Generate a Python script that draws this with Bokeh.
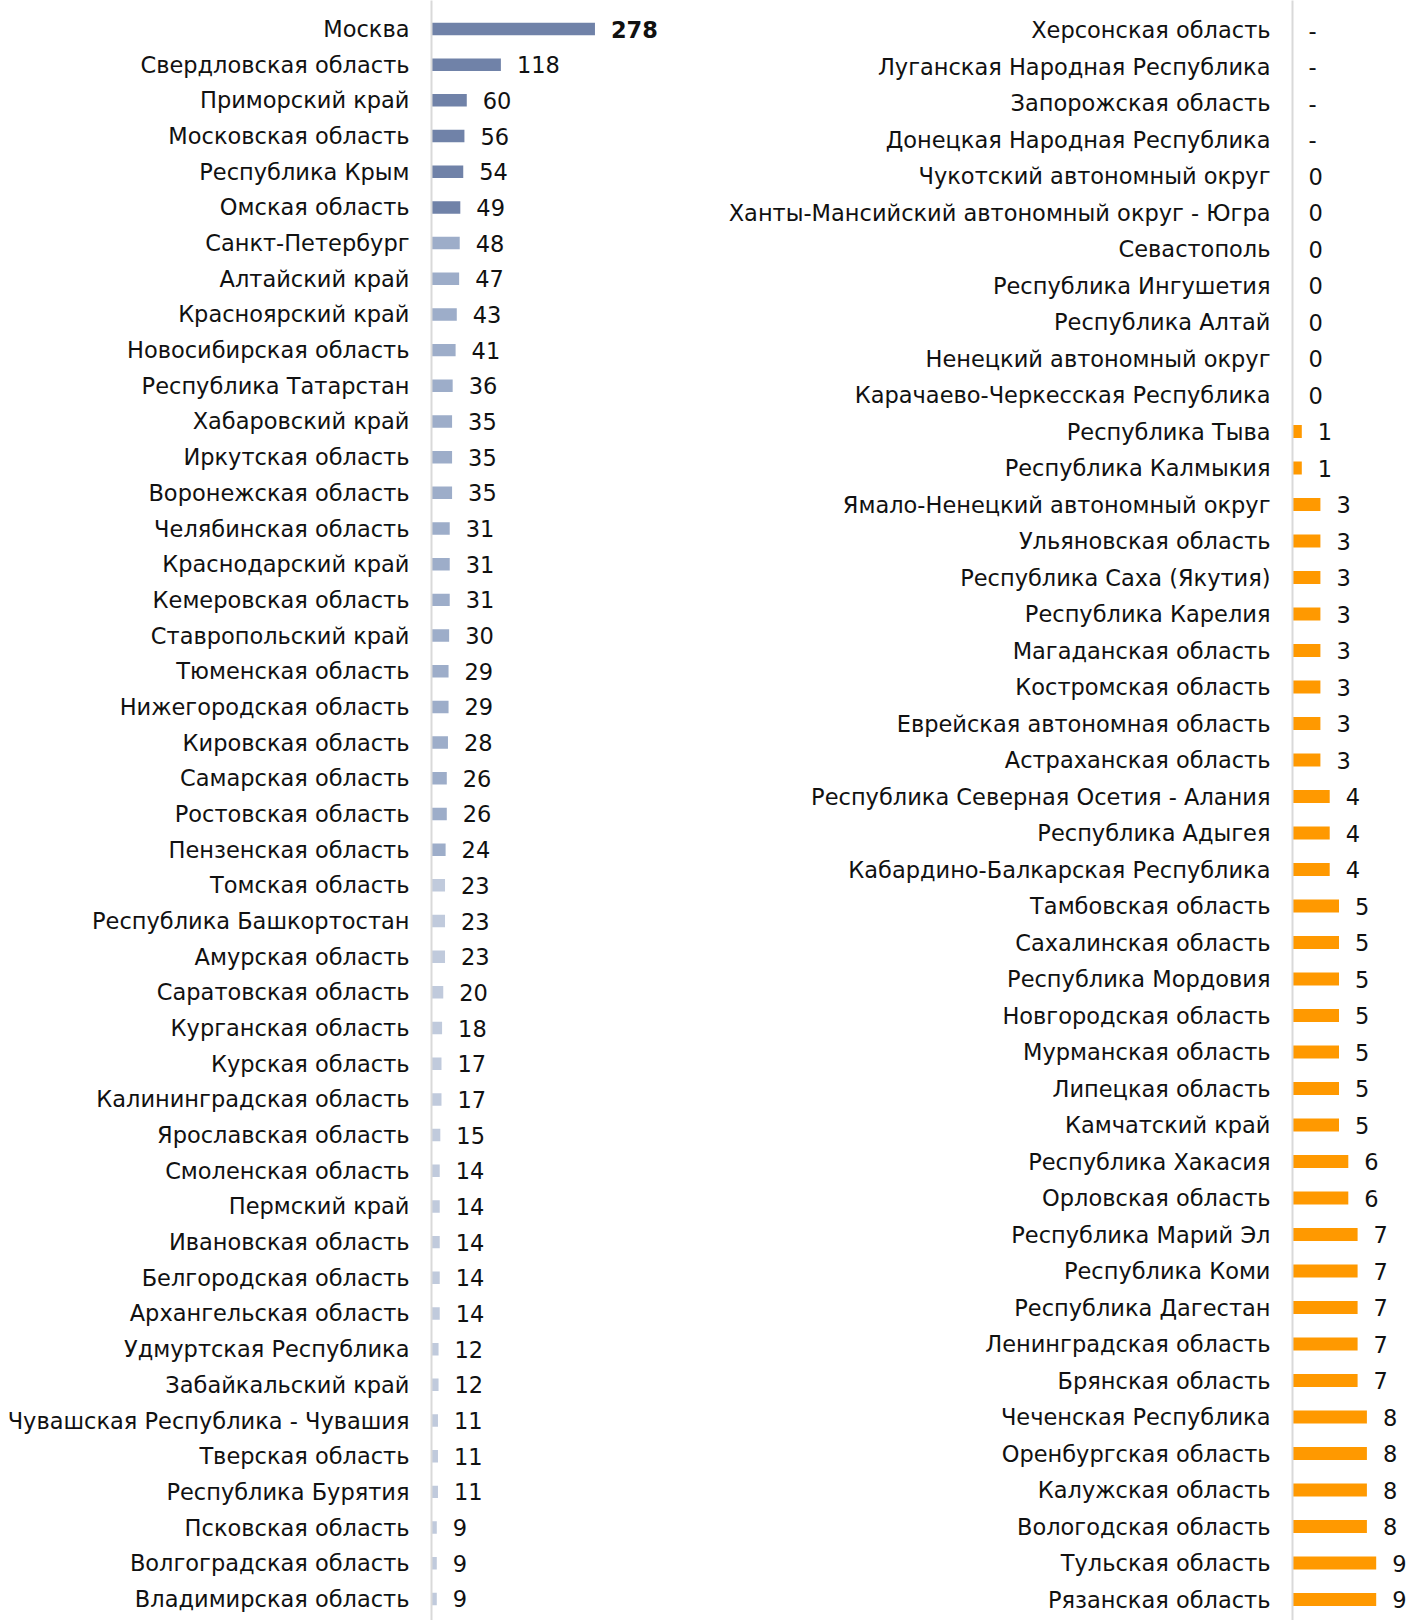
from bokeh.plotting import figure
from bokeh.models import Range1d, FixedTicker, ColumnDataSource
from bokeh.layouts import row
from bokeh.embed import file_html
from bokeh.resources import INLINE
from bokeh.core.properties import value

left_regions = ["Москва", "Свердловская область", "Приморский край", "Московская область",
    "Республика Крым", "Омская область", "Санкт-Петербург", "Алтайский край",
    "Красноярский край", "Новосибирская область", "Республика Татарстан", "Хабаровский край",
    "Иркутская область", "Воронежская область", "Челябинская область", "Краснодарский край",
    "Кемеровская область", "Ставропольский край", "Тюменская область", "Нижегородская область",
    "Кировская область", "Самарская область", "Ростовская область", "Пензенская область",
    "Томская область", "Республика Башкортостан", "Амурская область", "Саратовская область",
    "Курганская область", "Курская область", "Калининградская область", "Ярославская область",
    "Смоленская область", "Пермский край", "Ивановская область", "Белгородская область",
    "Архангельская область", "Удмуртская Республика", "Забайкальский край",
    "Чувашская Республика - Чувашия", "Тверская область", "Республика Бурятия",
    "Псковская область", "Волгоградская область", "Владимирская область"]
left_values = [278, 118, 60, 56, 54, 49, 48, 47, 43, 41, 36, 35, 35, 35, 31, 31, 31, 30, 29, 29,
    28, 26, 26, 24, 23, 23, 23, 20, 18, 17, 17, 15, 14, 14, 14, 14, 14, 12, 12, 11, 11, 11, 9, 9, 9]

right_regions = ["Херсонская область", "Луганская Народная Республика", "Запорожская область",
    "Донецкая Народная Республика", "Чукотский автономный округ",
    "Ханты-Мансийский автономный округ - Югра", "Севастополь", "Республика Ингушетия",
    "Республика Алтай", "Ненецкий автономный округ", "Карачаево-Черкесская Республика",
    "Республика Тыва", "Республика Калмыкия", "Ямало-Ненецкий автономный округ",
    "Ульяновская область", "Республика Саха (Якутия)", "Республика Карелия",
    "Магаданская область", "Костромская область", "Еврейская автономная область",
    "Астраханская область", "Республика Северная Осетия - Алания", "Республика Адыгея",
    "Кабардино-Балкарская Республика", "Тамбовская область", "Сахалинская область",
    "Республика Мордовия", "Новгородская область", "Мурманская область", "Липецкая область",
    "Камчатский край", "Республика Хакасия", "Орловская область", "Республика Марий Эл",
    "Республика Коми", "Республика Дагестан", "Ленинградская область", "Брянская область",
    "Чеченская Республика", "Оренбургская область", "Калужская область", "Вологодская область",
    "Тульская область", "Рязанская область"]
right_values = [None, None, None, None, 0, 0, 0, 0, 0, 0, 0, 1, 1, 3, 3, 3, 3, 3, 3, 3, 3,
    4, 4, 4, 5, 5, 5, 5, 5, 5, 5, 6, 6, 7, 7, 7, 7, 7, 8, 8, 8, 8, 9, 9]

FONT = "DejaVu Sans"
FSIZE = "22.5px"
DARK, MID, LIGHT, ORANGE = "#7082a8", "#9dadc9", "#c0cadc", "#ff9900"
H = 1620


def left_color(v):
    if v >= 49:
        return DARK
    if v >= 24:
        return MID
    return LIGHT


def make_fig(regions, vals, colors, width, frame_left, xmax, ytop, ybot, bold_first):
    n = len(regions)
    ys = list(range(n))
    bar_vals = [0 if v is None else v for v in vals]
    labels = ["-" if v is None else str(v) for v in vals]
    p = figure(width=width, height=H, output_backend="svg", toolbar_location=None,
               x_range=Range1d(0, xmax), y_range=Range1d(ybot, ytop),
               min_border_left=frame_left, min_border_right=0, min_border_top=0,
               min_border_bottom=0, x_axis_location=None)
    p.outline_line_color = None
    p.grid.visible = False
    p.background_fill_color = "white"
    src = ColumnDataSource(dict(y=ys, v=bar_vals, c=colors, t=labels,
                                w=["bold" if (bold_first and i == 0) else "normal" for i in ys]))
    p.hbar(y="y", left=0, right="v", height=0.35, fill_color="c", line_color=None, source=src)
    p.text(x="v", y="y", text="t", source=src, x_offset=16, text_align="left",
           text_baseline="middle", text_font=value(FONT), text_font_size=FSIZE,
           text_font_style="w", text_color="#111111")
    ax = p.yaxis[0]
    ax.ticker = FixedTicker(ticks=ys)
    ax.major_label_overrides = {i: r for i, r in enumerate(regions)}
    ax.major_tick_line_color = None
    ax.major_tick_out = 0
    ax.major_tick_in = 0
    ax.minor_tick_line_color = None
    ax.axis_line_color = "#d9d9d9"
    ax.axis_line_width = 2
    ax.major_label_standoff = 22
    ax.major_label_text_font = FONT
    ax.major_label_text_font_size = FSIZE
    ax.major_label_text_color = "#111111"
    return p


W1 = 720
pitch_l = 35.68
first_c_l = 28.5
left = make_fig(left_regions, left_values, [left_color(v) for v in left_values],
                W1, 431, (W1 - 431) / 0.588, -first_c_l / pitch_l, (H - first_c_l) / pitch_l, True)
pitch_r = 36.5
first_c_r = 29.5
right = make_fig(right_regions, right_values, [ORANGE] * len(right_values),
                 1408 - W1, 1292 - W1, 116 / 9.3, -first_c_r / pitch_r, (H - first_c_r) / pitch_r, False)

layout = row(left, right, spacing=0)
open("out.html", "w").write(file_html(layout, INLINE))
